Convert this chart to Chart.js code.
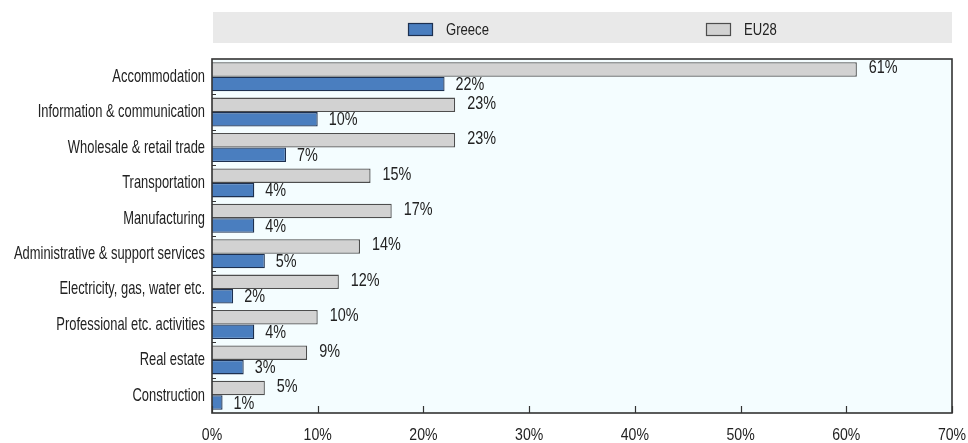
<!DOCTYPE html>
<html>
<head>
<meta charset="utf-8">
<script src="https://cdn.jsdelivr.net/npm/chart.js@4/dist/chart.umd.min.js"></script>
<style>
  html, body { margin: 0; padding: 0; background: #ffffff; }
  #wrap { width: 968px; height: 443px; }
</style>
</head>
<body>
<div id="wrap"><canvas id="c" width="968" height="443"></canvas></div>
<script>
// Sectors, top to bottom
const sectors = [
  'Accommodation',
  'Information & communication',
  'Wholesale & retail trade',
  'Transportation',
  'Manufacturing',
  'Administrative & support services',
  'Electricity, gas, water etc.',
  'Professional etc. activities',
  'Real estate',
  'Construction'
];
// Share of enterprises (%)
const greeceValues = [22, 10, 7, 4, 4, 5, 2, 4, 3, 1];
const eu28Values   = [61, 23, 23, 15, 17, 14, 12, 10, 9, 5];
// Axis ticks (%)
const xTicks = [0, 10, 20, 30, 40, 50, 60, 70];

const FONT = "'Liberation Sans', Arial, sans-serif";
const TEXT = '#222222';

// Narrow-set text: regular face squeezed horizontally
function narrowText(ctx, txt, x, y, align, size, sx) {
  ctx.save();
  ctx.font = size + 'px ' + FONT;
  ctx.fillStyle = TEXT;
  ctx.textBaseline = 'middle';
  ctx.textAlign = align;
  ctx.translate(x, y);
  ctx.scale(sx, 1);
  ctx.fillText(txt, 0, 0);
  ctx.restore();
}

const frame = {
  id: 'frame',
  beforeDatasetsDraw(chart) {
    const { ctx, chartArea: a } = chart;
    ctx.save();
    ctx.fillStyle = '#f4fdff';
    ctx.fillRect(a.left, a.top, a.right - a.left, a.bottom - a.top);
    ctx.restore();
  },
  afterDatasetsDraw(chart) {
    const { ctx, chartArea: a, scales } = chart;
    ctx.save();
    ctx.strokeStyle = '#333333';
    ctx.lineWidth = 1.6;
    ctx.strokeRect(a.left, a.top, a.right - a.left, a.bottom - a.top);
    ctx.lineWidth = 1.2;
    ctx.beginPath();
    xTicks.forEach(v => {
      const x = Math.round(scales.x.getPixelForValue(v)) + 0.5;
      ctx.moveTo(x, a.bottom);
      ctx.lineTo(x, a.bottom - 7);
    });
    const n = sectors.length;
    for (let i = 1; i < n; i++) {
      const y = Math.round((scales.y.getPixelForValue(i - 1) + scales.y.getPixelForValue(i)) / 2) + 0.5;
      ctx.moveTo(a.left, y);
      ctx.lineTo(a.left + 4, y);
    }
    ctx.stroke();
    ctx.restore();

    // value labels at the bar ends
    chart.data.datasets.forEach((ds, di) => {
      const meta = chart.getDatasetMeta(di);
      meta.data.forEach((bar, i) => {
        const v = ds.data[i];
        const dx = di === 0 ? 12 : 11;
        const dy = di === 0 ? -1 : 1;
        narrowText(ctx, Math.round(v) + '%', bar.x + dx, bar.y + dy, 'left', 18, 0.8);
      });
    });

    // category labels
    sectors.forEach((s, i) => {
      narrowText(ctx, s, a.left - 7, scales.y.getPixelForValue(i), 'right', 19, 0.68);
    });

    // value axis labels
    xTicks.forEach(v => {
      narrowText(ctx, v + '%', scales.x.getPixelForValue(v), a.bottom + 23, 'center', 16, 0.88);
    });
  },
  afterDraw(chart) {
    // legend band above the plot
    const { ctx, chartArea: a } = chart;
    const w = a.right - a.left;
    ctx.save();
    ctx.fillStyle = '#e9e9e9';
    ctx.fillRect(a.left + 1, 12, w - 1, 31);
    ctx.restore();
    const order = [1, 0];
    const fracs = [0.265, 0.668];
    order.forEach((di, k) => {
      const ds = chart.data.datasets[di];
      const x = Math.round(a.left + w * fracs[k]);
      ctx.save();
      ctx.fillStyle = ds.backgroundColor;
      ctx.fillRect(x, 23, 25, 13);
      ctx.strokeStyle = ds.borderColor;
      ctx.lineWidth = 1.2;
      ctx.strokeRect(x + 0.5, 23.5, 24, 12);
      ctx.restore();
      narrowText(ctx, ds.label, x + 38, 30, 'left', 17, 0.77);
    });
  }
};

new Chart(document.getElementById('c'), {
  type: 'bar',
  data: {
    labels: sectors,
    datasets: [
      {
        label: 'EU28',
        data: eu28Values,
        backgroundColor: '#d2d2d2',
        borderColor: '#4d4d4d',
        borderWidth: 1.3,
        barPercentage: 1.0,
        categoryPercentage: 0.82
      },
      {
        label: 'Greece',
        data: greeceValues,
        backgroundColor: '#4a7ebf',
        borderColor: '#1d3050',
        borderWidth: 1.3,
        barPercentage: 1.0,
        categoryPercentage: 0.82
      }
    ]
  },
  options: {
    indexAxis: 'y',
    responsive: false,
    animation: false,
    devicePixelRatio: 1,
    layout: { padding: { top: 59, right: 16, left: 0, bottom: 0 } },
    plugins: {
      legend: { display: false },
      tooltip: { enabled: false }
    },
    scales: {
      x: {
        type: 'linear',
        min: 0,
        max: 70,
        afterBuildTicks(scale) { scale.ticks = xTicks.map(v => ({ value: v })); },
        grid: { display: false, drawTicks: false },
        border: { display: false },
        ticks: { display: false },
        afterFit(scale) { scale.height = 30; }
      },
      y: {
        grid: { display: false, drawTicks: false },
        border: { display: false },
        ticks: { display: false },
        afterFit(scale) { scale.width = 212; }
      }
    }
  },
  plugins: [frame]
});
</script>
</body>
</html>
